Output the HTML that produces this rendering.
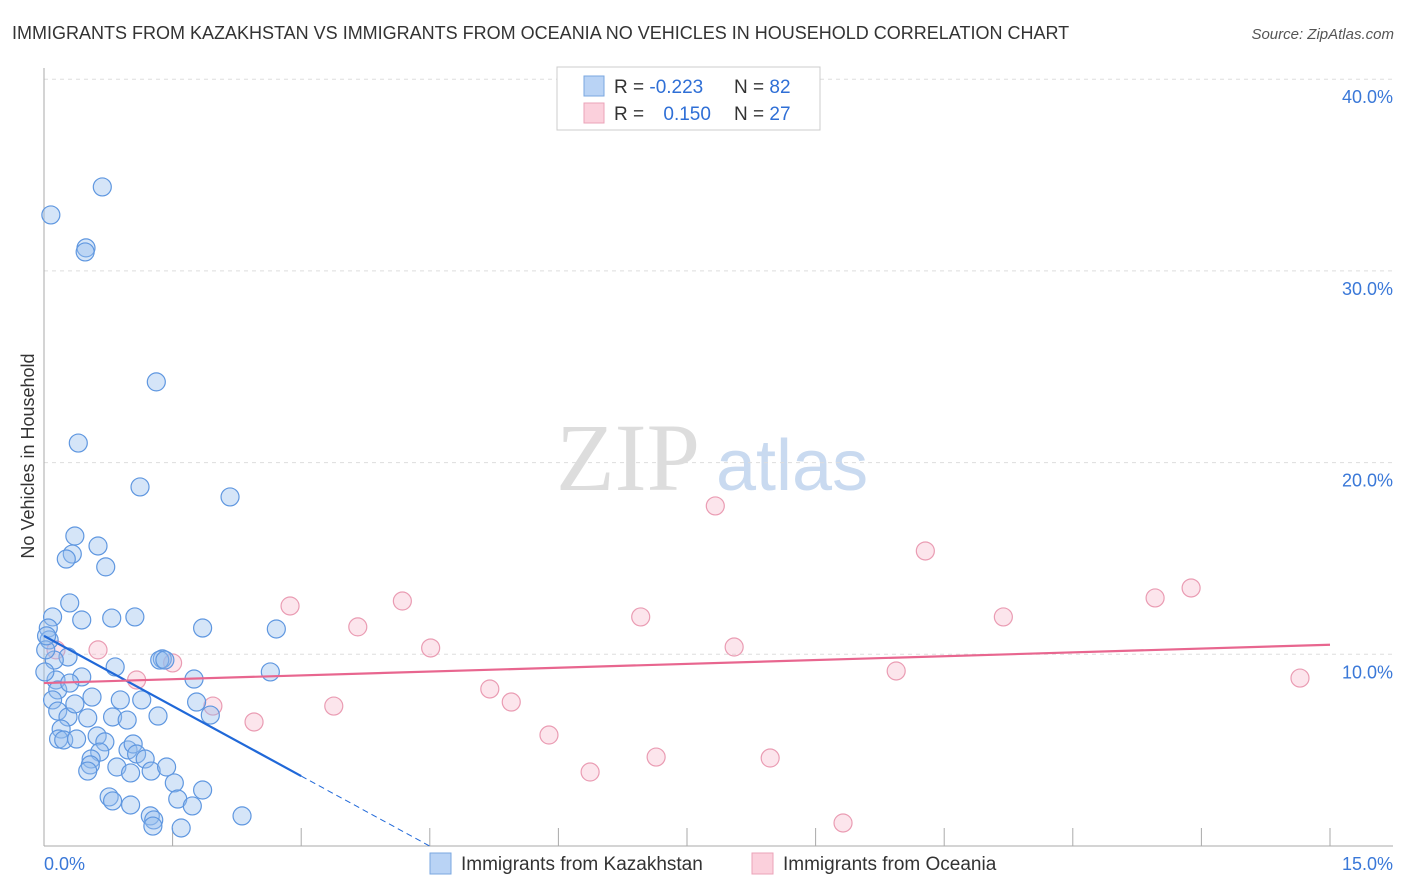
<!DOCTYPE html><html><head><meta charset="utf-8"><style>
body{margin:0;background:#fff;font-family:"Liberation Sans",sans-serif}
</style></head><body>
<svg id="c" width="1406" height="892" xmlns="http://www.w3.org/2000/svg" style="display:block">
<text x="12" y="39" font-size="18" fill="#333">IMMIGRANTS FROM KAZAKHSTAN VS IMMIGRANTS FROM OCEANIA NO VEHICLES IN HOUSEHOLD CORRELATION CHART</text>
<text x="1394" y="39" font-size="15" fill="#555" font-style="italic" text-anchor="end">Source: ZipAtlas.com</text>
<text x="556" y="490" font-size="96" fill="#ddd" font-family="Liberation Serif,serif">ZIP</text>
<text x="716" y="490" font-size="72" fill="#c9daf0">atlas</text>
<text transform="translate(34,456) rotate(-90)" font-size="18" fill="#333" text-anchor="middle">No Vehicles in Household</text>
<g id="grid"></g><g id="pts"></g><g id="lines"></g>
<g>
<rect x="557" y="67" width="263" height="63" fill="#fff" stroke="#ccc"/>
<rect x="584" y="76" width="20" height="20" fill="#b9d3f5" stroke="#7aa7e0"/>
<rect x="584" y="103" width="20" height="20" fill="#fbd0dc" stroke="#eba3b8"/>
<text x="614" y="93" font-size="19" fill="#333">R = <tspan fill="#2f6fd6">-0.223</tspan></text>
<text x="734" y="93" font-size="19" fill="#333">N = <tspan fill="#2f6fd6">82</tspan></text>
<text x="614" y="120" font-size="19" fill="#333">R = <tspan fill="#2f6fd6" dx="14">0.150</tspan></text>
<text x="734" y="120" font-size="19" fill="#333">N = <tspan fill="#2f6fd6">27</tspan></text>
</g>
<g>
<rect x="430" y="853" width="21" height="21" fill="#b9d3f5" stroke="#7aa7e0"/>
<text x="461" y="870" font-size="19" fill="#333">Immigrants from Kazakhstan</text>
<rect x="752" y="853" width="21" height="21" fill="#fbd0dc" stroke="#eba3b8"/>
<text x="783" y="870" font-size="19" fill="#333">Immigrants from Oceania</text>
</g>
<text x="44" y="870" font-size="18" fill="#3a78d8">0.0%</text>
<text x="1393" y="870" font-size="18" fill="#3a78d8" text-anchor="end">15.0%</text>
</svg>
<script>
const yTicks=[10,20,30,40];
const yTickLabels=["10.0%","20.0%","30.0%","40.0%"];
const blueX=[0.68,0.08,0.49,0.48,1.31,0.40,1.12,2.17,0.36,0.33,0.26,0.63,0.72,0.30,0.10,0.44,0.79,1.06,1.85,2.71,0.05,0.06,0.28,1.38,1.35,1.75,2.64,0.83,0.14,0.16,0.44,0.30,0.56,0.89,1.14,1.78,1.94,1.33,0.80,0.51,0.97,0.10,0.16,0.28,0.20,0.17,0.23,0.38,0.62,0.71,0.65,0.98,1.04,1.08,1.18,0.55,0.54,0.85,1.01,1.25,1.43,0.51,1.52,1.85,0.76,0.80,1.56,1.73,1.01,1.24,1.28,1.27,1.60,2.31,0.12,0.02,0.03,0.01,1.41,0.36];
const blueY=[34.38,32.92,31.20,30.99,24.21,21.02,18.73,18.21,16.17,15.23,14.97,15.65,14.56,12.68,11.95,11.79,11.89,11.95,11.37,11.32,11.37,10.75,9.86,9.76,9.70,8.71,9.08,9.34,8.66,8.14,8.82,8.50,7.77,7.62,7.62,7.51,6.83,6.78,6.73,6.68,6.57,7.62,7.04,6.73,6.10,5.58,5.53,5.58,5.74,5.43,4.90,5.01,5.32,4.80,4.54,4.54,4.23,4.12,3.81,3.91,4.12,3.91,3.29,2.92,2.56,2.35,2.45,2.09,2.14,1.57,1.36,1.04,0.94,1.57,9.70,10.23,10.96,9.08,9.70,7.41];
const pinkX=[0.14,0.63,1.08,1.50,1.97,2.45,2.87,3.38,3.66,4.18,4.51,5.20,5.45,5.89,6.37,6.96,7.14,7.83,8.05,8.47,9.32,9.94,10.28,11.19,12.96,13.38,14.65];
const pinkY=[10.23,10.23,8.66,9.55,7.30,6.47,12.52,7.30,11.43,12.78,10.33,8.19,7.51,5.79,3.86,11.95,4.64,17.74,10.38,4.59,1.20,9.13,15.39,11.95,12.94,13.46,8.76];
const blueTrend=[10.96,3.65]; // at x=0 and x=3.0
const pinkTrend=[8.5,10.5];   // at x=0 and x=15
const NS="http://www.w3.org/2000/svg";
const X=v=>44+v*1286/15, Y=v=>846-v*19.17;
function mk(t,a,p){const e=document.createElementNS(NS,t);for(const k in a)e.setAttribute(k,a[k]);p.appendChild(e);return e;}
const g=document.getElementById('grid');
yTicks.forEach((t,i)=>{
 const l=mk('line',{x1:44,x2:1393,y1:Y(t),y2:Y(t),stroke:'#ddd','stroke-dasharray':'4,4'},g);
 
 
 const tx=mk('text',{x:1393,y:Y(t)+24,'font-size':18,fill:'#3a78d8','text-anchor':'end'},g);
 tx.textContent=yTickLabels[i];
 
 
});
const ax=mk('line',{x1:44,x2:44,y1:68,y2:846,stroke:'#aaa'},g);


const bx=mk('line',{x1:44,x2:1393,y1:846,y2:846,stroke:'#aaa'},g);


for(let i=0;i<=10;i++){const t=mk('line',{x1:X(i*1.5),x2:X(i*1.5),y1:828,y2:846,stroke:'#aaa'},g);
 
 }
const p=document.getElementById('pts');
pinkX.forEach((v,i)=>{const c=mk('circle',{cx:X(v),cy:Y(pinkY[i]),r:9,fill:'rgba(248,190,208,0.4)',stroke:'#ea9cb3','stroke-width':1.2},p);
 
 });
blueX.forEach((v,i)=>{const c=mk('circle',{cx:X(v),cy:Y(blueY[i]),r:9,fill:'rgba(150,190,238,0.4)',stroke:'#5f97e0','stroke-width':1.2},p);
 
 });
const L=document.getElementById('lines');
const slope=(blueTrend[1]-blueTrend[0])/3.0;
const b1=mk('line',{x1:X(0),y1:Y(blueTrend[0]),x2:X(3.0),y2:Y(blueTrend[1]),stroke:'#2068d8','stroke-width':2.2},L);


const xe=-blueTrend[0]/slope;
const b2=mk('line',{x1:X(3.0),y1:Y(blueTrend[1]),x2:X(xe),y2:Y(0),stroke:'#2068d8','stroke-width':1,'stroke-dasharray':'6,4'},L);


const p1=mk('line',{x1:X(0),y1:Y(pinkTrend[0]),x2:X(15),y2:Y(pinkTrend[1]),stroke:'#e8668f','stroke-width':2.2},L);


</script>
</body></html>
